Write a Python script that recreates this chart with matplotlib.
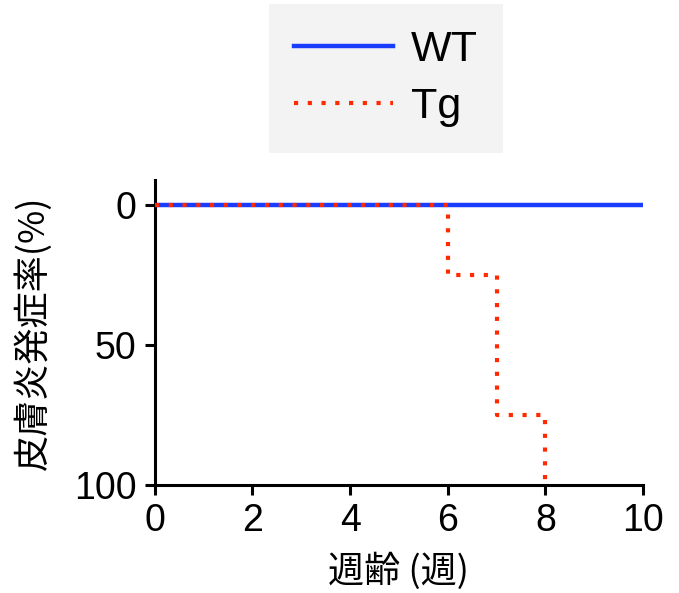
import matplotlib.pyplot as plt

plt.rcParams['font.family'] = ['Liberation Sans', 'Noto Sans CJK JP']

wt_weeks = [0, 10]
wt_incidence = [0, 0]
tg_weeks = [0, 6, 7, 8]
tg_incidence = [0, 25, 75, 100]

x_ticks = [0, 2, 4, 6, 8, 10]
y_ticks = [0, 50, 100]

fig = plt.figure(figsize=(6.79, 5.93), dpi=100)
ax = fig.add_axes([0.228, 0.182, 0.719, 0.514])

ax.plot(wt_weeks, wt_incidence, color='#1a3cff', lw=3.2, label='WT', zorder=3)
ax.plot(tg_weeks, tg_incidence, color='#ff2a00', lw=3, ls=(0, (1, 2.3)),
        drawstyle='steps-post', label='Tg', zorder=4)

ax.set_xlim(0, 10)
ax.set_ylim(100, -9)
ax.set_xticks(x_ticks)
ax.set_yticks(y_ticks)
ax.tick_params(labelsize=27, width=2.2, length=7, direction='out')
ax.tick_params(axis='x', pad=6)
ax.tick_params(axis='y', pad=6)

for s in ['top', 'right']:
    ax.spines[s].set_visible(False)
for s in ['left', 'bottom']:
    ax.spines[s].set_linewidth(2.2)

ax.set_xlabel('週齢 (週)', fontsize=26, family=['Noto Sans CJK JP'], labelpad=10)
ax.set_ylabel('皮膚炎発症率(%)', fontsize=26, family=['Noto Sans CJK JP'], labelpad=16)

leg = fig.legend(loc='upper center', bbox_to_anchor=(386 / 679, 1 - 4 / 593),
                 fontsize=31, frameon=True, fancybox=False, handlelength=2.3,
                 handletextpad=0.4, borderpad=0.6, labelspacing=0.4,
                 borderaxespad=0,
                 facecolor='#f3f3f3', edgecolor='none', framealpha=1)

fig.savefig('out.png', dpi=100)
